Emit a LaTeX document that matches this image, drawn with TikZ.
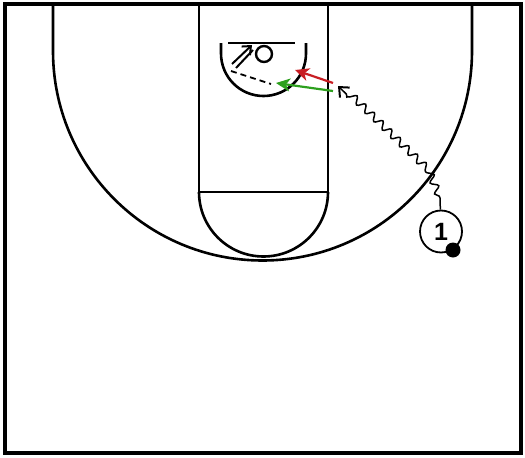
\documentclass[tikz,border=0pt]{standalone}
\usepackage{fontspec}
\setsansfont{Liberation Sans}
\usepackage{tikz}
\usetikzlibrary{calc, positioning, arrows, arrows.meta, decorations.pathmorphing}
\definecolor{cutred}{RGB}{200,30,35}
\definecolor{cutgreen}{RGB}{45,160,30}
\tikzstyle{crt}=[line width=2.6pt]
\tikzstyle{plr}=[inner sep=0pt, draw, shape=circle, line width=1.8pt, minimum size=42pt, fill=white, font=\sffamily\bfseries\fontsize{25}{25}\selectfont]
\tikzstyle{ball}=[inner sep=0pt, shape=circle, fill=black, minimum size=15pt]
\tikzstyle{cut}=[line width=2.2pt, -{Stealth[length=14pt, width=13pt, inset=4pt]}]
\tikzstyle{drb}=[line width=1.5pt, decorate, decoration={snake, amplitude=3.5pt, segment length=12pt, pre length=2pt, post length=8pt}]
\tikzset{>=stealth}

\begin{document}
\begin{tikzpicture}[x=1pt, y=-1pt]
\useasboundingbox (0,0) rectangle (525,458);
% court
\draw[line width=3.4pt] (5,4) rectangle (521,453);
\draw[crt] (53,4) -- (53,51) arc (180:0:209.5) -- (472,4);
\draw[crt] (199,4) -- (199,192) -- (328,192) -- (328,4);
\draw[crt] (199,192) arc (180:0:64.5);
\draw[crt] (221,43) -- (221,53.5) arc (180:0:42.5) -- (306,43);
\draw[line width=2.8pt] (228,43) -- (295,43);
\node[inner sep=0pt, draw, shape=circle, line width=2.4pt, minimum size=16pt] (rim) at (264,54) {};

% player and ball
\node[plr] (p1) at (441,231.5) {1};
\node[ball] (b1) at (453,250) {};

% dribble
\coordinate (d0) at (440,198);
\coordinate (d1) at (431,176);
\coordinate (d2) at (338,86);
\draw[line width=1.5pt] (p1) -- (d0);
\draw[drb, -{Straight Barb[length=8pt, width=14pt, line width=2pt]}] (d0) -- (d1) -- (d2);

% cuts
\coordinate (r0) at (333,83);
\coordinate (r1) at (295,70);
\coordinate (g0) at (333,91);
\coordinate (g1) at (276,83);
\draw[cut, cutred] (r0) -- (r1);
\draw[cut, cutgreen] (g0) -- (g1);

% shot
\coordinate (s0) at (232,64);
\coordinate (s1) at (252,45);
\coordinate (s2) at (236,68);
\coordinate (s3) at (253,50);
\draw[line width=2pt, -{Straight Barb[length=7pt, width=12pt]}] (s0) -- (s1);
\draw[line width=2pt] (s2) -- (s3);
\coordinate (h0) at (231,71);
\coordinate (h1) at (271,84);
\draw[line width=1.8pt, dash pattern=on 6pt off 4pt] (h0) -- (h1);
\end{tikzpicture}
\end{document}
